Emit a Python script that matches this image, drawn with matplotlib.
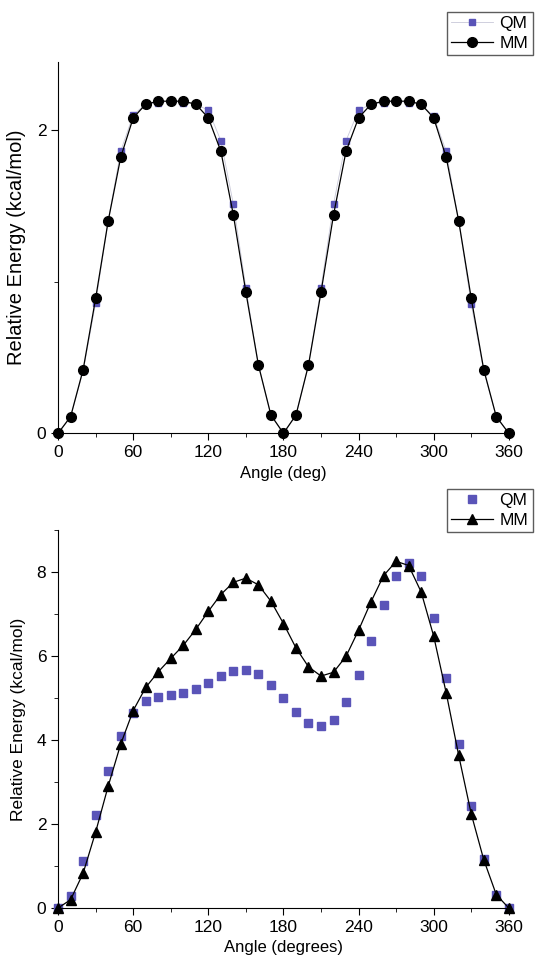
import matplotlib
matplotlib.use("Agg")
from matplotlib import pyplot as plt
from matplotlib.ticker import MultipleLocator

plt.rcParams["font.family"] = ["Liberation Sans", "DejaVu Sans"]

angles = list(range(0, 361, 10))

# top panel
qm_top = [0, 0.11, 0.41, 0.86, 1.40, 1.86, 2.10, 2.17, 2.18, 2.19, 2.18, 2.17, 2.13,
          1.93, 1.51, 0.96, 0.45, 0.12, 0, 0.12, 0.45, 0.96, 1.51, 1.93, 2.13, 2.17,
          2.18, 2.19, 2.18, 2.17, 2.09, 1.86, 1.40, 0.85, 0.41, 0.11, 0]
mm_top = [0, 0.11, 0.42, 0.89, 1.40, 1.82, 2.08, 2.17, 2.19, 2.19, 2.19, 2.17, 2.08,
          1.86, 1.44, 0.93, 0.45, 0.12, 0, 0.12, 0.45, 0.93, 1.44, 1.86, 2.08, 2.17,
          2.19, 2.19, 2.19, 2.17, 2.08, 1.82, 1.40, 0.89, 0.42, 0.11, 0]

# bottom panel
qm_bot = [0, 0.29, 1.13, 2.21, 3.25, 4.10, 4.64, 4.92, 5.02, 5.06, 5.12, 5.21, 5.36,
          5.53, 5.63, 5.66, 5.56, 5.30, 5.00, 4.66, 4.40, 4.33, 4.48, 4.90, 5.54, 6.35,
          7.22, 7.90, 8.21, 7.90, 6.90, 5.48, 3.90, 2.42, 1.17, 0.32, 0]
mm_bot = [0, 0.20, 0.83, 1.81, 2.90, 3.90, 4.70, 5.25, 5.62, 5.94, 6.25, 6.63, 7.06,
          7.46, 7.75, 7.85, 7.69, 7.30, 6.77, 6.19, 5.74, 5.52, 5.61, 5.99, 6.61, 7.29,
          7.91, 8.25, 8.15, 7.52, 6.47, 5.12, 3.63, 2.24, 1.15, 0.32, 0]

qm_color = "#5a54b8"

fig = plt.figure(figsize=(5.43, 9.65), dpi=100)
ax1 = fig.add_axes([0.107, 0.551, 0.830, 0.385])
ax2 = fig.add_axes([0.107, 0.059, 0.830, 0.392])


def style(ax, ymax, ymajor, xlabel, ylabel_size):
    ax.set_xlim(0, 360)
    ax.set_ylim(0, ymax)
    ax.spines["top"].set_visible(False)
    ax.spines["right"].set_visible(False)
    ax.xaxis.set_major_locator(MultipleLocator(60))
    ax.xaxis.set_minor_locator(MultipleLocator(30))
    ax.yaxis.set_major_locator(MultipleLocator(ymajor))
    ax.yaxis.set_minor_locator(MultipleLocator(ymajor / 2))
    ax.tick_params(which="major", direction="out", length=5, labelsize=12.5)
    ax.tick_params(which="minor", direction="out", length=3)
    ax.set_xlabel(xlabel, fontsize=12, labelpad=4)
    ax.set_ylabel("Relative Energy (kcal/mol)", fontsize=ylabel_size, labelpad=8)
    for c in ax.collections + ax.lines:
        c.set_clip_on(False)


def add_legend(ax, y):
    ax.legend(loc="upper right", bbox_to_anchor=(1.053, y), fontsize=12.5,
              frameon=True, fancybox=False, edgecolor="#333333", handlelength=2.4,
              borderpad=0.25, labelspacing=0.25, handletextpad=0.4, borderaxespad=0)


ax1.plot(angles, qm_top, color="#c8c8d8", lw=0.6, marker="s", ms=5,
         mfc=qm_color, mec=qm_color, label="QM")
ax1.plot(angles, mm_top, color="black", lw=0.9, marker="o", ms=7, label="MM")
style(ax1, 2.45, 2, "Angle (deg)", 14.5)
add_legend(ax1, 1.135)

ax2.plot(angles, qm_bot, ls="none", marker="s", ms=5.5, mfc=qm_color, mec=qm_color,
         label="QM")
ax2.plot(angles, mm_bot, color="black", lw=0.9, marker="^", ms=7, label="MM")
style(ax2, 9, 2, "Angle (degrees)", 12.5)
add_legend(ax2, 1.108)

fig.savefig("out.png", dpi=100)
